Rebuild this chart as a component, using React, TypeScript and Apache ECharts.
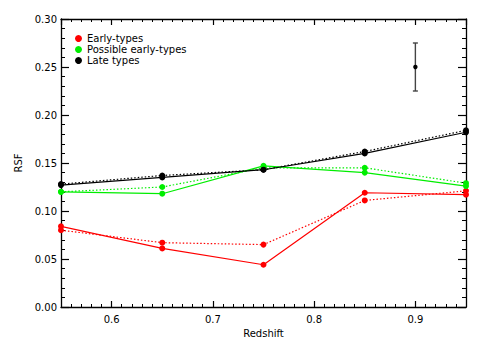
import React, { useEffect, useRef } from "react";
import * as echarts from "echarts";

const redshift = [0.55, 0.65, 0.75, 0.85, 0.95];
const earlySolid = [0.084, 0.061, 0.044, 0.119, 0.117];
const earlyDotted = [0.080, 0.067, 0.065, 0.111, 0.121];
const possibleSolid = [0.120, 0.118, 0.147, 0.140, 0.126];
const possibleDotted = [0.120, 0.125, 0.145, 0.145, 0.129];
const lateSolid = [0.127, 0.135, 0.143, 0.160, 0.182];
const lateDotted = [0.128, 0.137, 0.143, 0.162, 0.184];
const errorBar = [[0.9, 0.25, 0.225, 0.275]];
const legendNames = ["Early-types", "Possible early-types", "Late types"];
const colors = ["#ff0000", "#00ee00", "#000000"];

const FONT = "DejaVu Sans";

function pairs(ys: number[]) {
  return redshift.map((x, i) => [x, ys[i]]);
}

export default function App() {
  const ref = useRef<HTMLDivElement>(null);
  useEffect(() => {
    if (!ref.current) return;
    const chart = echarts.init(ref.current, null, { renderer: "svg" });
    const axisLine = { show: true, lineStyle: { color: "#000", width: 1.3 } };
    const xMajor = (pos: string, labels: boolean) => ({
      type: "value",
      position: pos,
      min: 0.55,
      max: 0.95,
      splitNumber: 4,
      axisLine,
      axisTick: { show: true, inside: true, length: 6, lineStyle: { color: "#000", width: 1.2 } },
      splitLine: { show: false },
      axisLabel: {
        show: labels,
        showMinLabel: false,
        showMaxLabel: false,
        color: "#000",
        fontSize: 10,
        fontFamily: FONT,
        margin: 7,
        formatter: (v: number) => {
          const r = Math.round(v * 10) / 10;
          return Math.abs(r - v) < 1e-6 ? r.toFixed(1) : "";
        },
      },
      ...(labels
        ? {
            name: "Redshift",
            nameLocation: "middle",
            nameGap: 19,
            nameTextStyle: { color: "#000", fontSize: 10, fontFamily: FONT },
          }
        : {}),
    });
    const xMinor = (pos: string) => ({
      type: "value",
      position: pos,
      min: 0.55,
      max: 0.95,
      interval: 0.01,
      axisLine: { show: false },
      axisTick: { show: true, inside: true, length: 3, lineStyle: { color: "#000", width: 1 } },
      splitLine: { show: false },
      axisLabel: { show: false },
    });
    const yAx = (pos: string, labels: boolean) => ({
      type: "value",
      position: pos,
      min: 0,
      max: 0.3,
      interval: 0.05,
      axisLine,
      axisTick: { show: true, inside: true, length: 8, lineStyle: { color: "#000", width: 1.2 } },
      minorTick: { show: true, splitNumber: 5, length: 4, lineStyle: { color: "#000", width: 1 } },
      splitLine: { show: false },
      axisLabel: {
        show: labels,
        color: "#000",
        fontSize: 10,
        fontFamily: FONT,
        margin: 4,
        formatter: (v: number) => v.toFixed(2),
      },
      ...(labels
        ? {
            name: "RSF",
            nameLocation: "middle",
            nameGap: 30,
            nameTextStyle: { color: "#000", fontSize: 10, fontFamily: FONT },
          }
        : {}),
    });
    const lineSeries = (name: string, ys: number[], color: string, dotted: boolean) => ({
      type: "line",
      name,
      data: pairs(ys),
      xAxisIndex: 0,
      yAxisIndex: 0,
      symbol: "circle",
      symbolSize: 6,
      showSymbol: true,
      itemStyle: { color },
      lineStyle: { color, width: 1.2, type: dotted ? [1.5, 2] : "solid" },
      z: dotted ? 2 : 3,
    });
    chart.setOption({
      animation: false,
      textStyle: { fontFamily: FONT },
      grid: { left: 61, right: 19, top: 19, bottom: 39 },
      legend: {
        show: true,
        orient: "vertical",
        left: 75,
        top: 33,
        padding: 0,
        itemGap: 0,
        itemWidth: 7,
        itemHeight: 7,
        icon: "circle",
        data: legendNames.map((n, i) => ({ name: n, itemStyle: { color: colors[i] } })),
        textStyle: { color: "#000", fontSize: 10, fontFamily: FONT, lineHeight: 11 },
      },
      xAxis: [xMajor("bottom", true), xMinor("bottom"), xMajor("top", false), xMinor("top")],
      yAxis: [yAx("left", true), yAx("right", false)],
      series: [
        lineSeries(legendNames[0] + " ", earlyDotted, colors[0], true),
        lineSeries(legendNames[0], earlySolid, colors[0], false),
        lineSeries(legendNames[1] + " ", possibleDotted, colors[1], true),
        lineSeries(legendNames[1], possibleSolid, colors[1], false),
        lineSeries(legendNames[2] + " ", lateDotted, colors[2], true),
        lineSeries(legendNames[2], lateSolid, colors[2], false),
        {
          type: "custom",
          name: "error",
          xAxisIndex: 0,
          yAxisIndex: 0,
          data: errorBar,
          renderItem: (params: any, api: any) => {
            const c = api.coord([api.value(0), api.value(1)]);
            const lo = api.coord([api.value(0), api.value(2)]);
            const hi = api.coord([api.value(0), api.value(3)]);
            const st = { stroke: "#444", lineWidth: 1.4 };
            return {
              type: "group",
              children: [
                { type: "line", shape: { x1: lo[0], y1: lo[1], x2: hi[0], y2: hi[1] }, style: st },
                { type: "line", shape: { x1: lo[0] - 2.5, y1: lo[1], x2: lo[0] + 2.5, y2: lo[1] }, style: st },
                { type: "line", shape: { x1: hi[0] - 2.5, y1: hi[1], x2: hi[0] + 2.5, y2: hi[1] }, style: st },
                { type: "circle", shape: { cx: c[0], cy: c[1], r: 2.2 }, style: { fill: "#000" } },
              ],
            };
          },
        },
      ],
    });
    return () => chart.dispose();
  }, []);
  return (
    <div
      ref={ref}
      style={{ position: "absolute", left: 0, top: 0, width: 485, height: 346, background: "#fff" }}
    />
  );
}
